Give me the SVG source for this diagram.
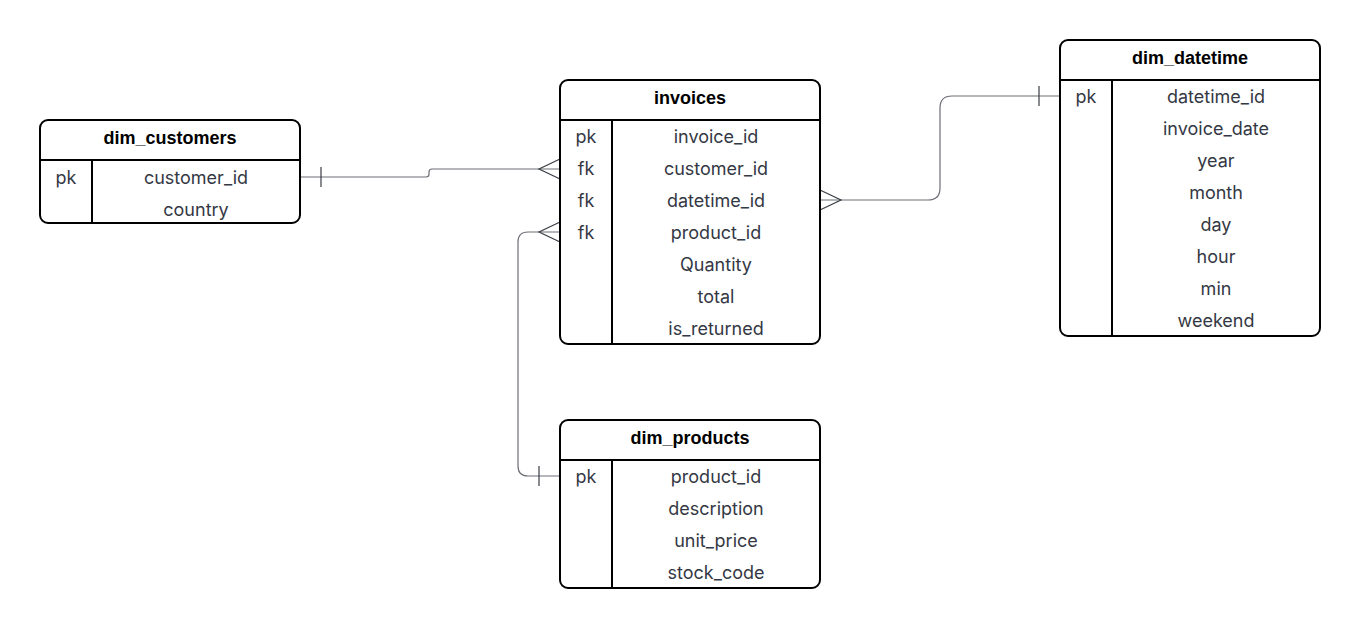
<svg xmlns="http://www.w3.org/2000/svg" width="1360" height="628" viewBox="0 0 1360 628">
  <style>
    .box { fill: #ffffff; stroke: #000000; stroke-width: 2; }
    .sep { stroke: #000000; stroke-width: 2; fill: none; }
    .title { font-family: "Liberation Sans", Arial, sans-serif; font-weight: bold; font-size: 18px; fill: #000000; text-anchor: middle; }
    .cell { font-family: Inter, "Noto Sans", sans-serif; font-size: 18px; fill: #343844; text-anchor: middle; }
    .edge { fill: none; stroke: #6b6e75; stroke-width: 1.2; }
    .mark { fill: none; stroke: #3a3d45; stroke-width: 1.2; }
  </style>

  <!-- relationships -->
  <g id="connectors">
    <!-- dim_customers.customer_id  1 — N  invoices.customer_id -->
    <path class="edge" d="M300,177 H426 Q429,177 429,174 V172 Q429,169 432,169 H560"/>
    <path class="mark" d="M321,167 V187"/>
    <path class="mark" d="M560,159 L539,169 L560,179"/>

    <!-- invoices.datetime_id  N — 1  dim_datetime.datetime_id -->
    <path class="edge" d="M820,200 H928 Q940,200 940,188 V108 Q940,96 952,96 H1060"/>
    <path class="mark" d="M820,190 L841,200 L820,210"/>
    <path class="mark" d="M1039,86 V106"/>

    <!-- invoices.product_id  N — 1  dim_products.product_id -->
    <path class="edge" d="M560,232 H528 Q518,232 518,242 V466 Q518,476 528,476 H560"/>
    <path class="mark" d="M560,222 L539,232 L560,242"/>
    <path class="mark" d="M539,466 V486"/>
  </g>

  <g id="dim_customers">
    <rect class="box" x="40" y="120" width="260" height="103" rx="8"/>
    <line class="sep" x1="40" y1="160" x2="300" y2="160"/>
    <line class="sep" x1="92" y1="160" x2="92" y2="223"/>
    <text class="title" x="170" y="144">dim_customers</text>
    <text class="cell" x="66" y="184">pk</text>
    <text class="cell" x="196" y="184">customer_id</text>
    <text class="cell" x="196" y="216">country</text>
  </g>

  <g id="invoices">
    <rect class="box" x="560" y="80" width="260" height="264" rx="8"/>
    <line class="sep" x1="560" y1="120" x2="820" y2="120"/>
    <line class="sep" x1="612" y1="120" x2="612" y2="344"/>
    <text class="title" x="690" y="104">invoices</text>
    <text class="cell" x="586" y="143">pk</text>
    <text class="cell" x="586" y="175">fk</text>
    <text class="cell" x="586" y="207">fk</text>
    <text class="cell" x="586" y="239">fk</text>
    <text class="cell" x="716" y="143">invoice_id</text>
    <text class="cell" x="716" y="175">customer_id</text>
    <text class="cell" x="716" y="207">datetime_id</text>
    <text class="cell" x="716" y="239">product_id</text>
    <text class="cell" x="716" y="271">Quantity</text>
    <text class="cell" x="716" y="303">total</text>
    <text class="cell" x="716" y="335">is_returned</text>
  </g>

  <g id="dim_datetime">
    <rect class="box" x="1060" y="40" width="260" height="296" rx="8"/>
    <line class="sep" x1="1060" y1="80" x2="1320" y2="80"/>
    <line class="sep" x1="1112" y1="80" x2="1112" y2="336"/>
    <text class="title" x="1190" y="64">dim_datetime</text>
    <text class="cell" x="1086" y="103">pk</text>
    <text class="cell" x="1216" y="103">datetime_id</text>
    <text class="cell" x="1216" y="135">invoice_date</text>
    <text class="cell" x="1216" y="167">year</text>
    <text class="cell" x="1216" y="199">month</text>
    <text class="cell" x="1216" y="231">day</text>
    <text class="cell" x="1216" y="263">hour</text>
    <text class="cell" x="1216" y="295">min</text>
    <text class="cell" x="1216" y="327">weekend</text>
  </g>

  <g id="dim_products">
    <rect class="box" x="560" y="420" width="260" height="168" rx="8"/>
    <line class="sep" x1="560" y1="460" x2="820" y2="460"/>
    <line class="sep" x1="612" y1="460" x2="612" y2="588"/>
    <text class="title" x="690" y="444">dim_products</text>
    <text class="cell" x="586" y="483">pk</text>
    <text class="cell" x="716" y="483">product_id</text>
    <text class="cell" x="716" y="515">description</text>
    <text class="cell" x="716" y="547">unit_price</text>
    <text class="cell" x="716" y="579">stock_code</text>
  </g>
</svg>
